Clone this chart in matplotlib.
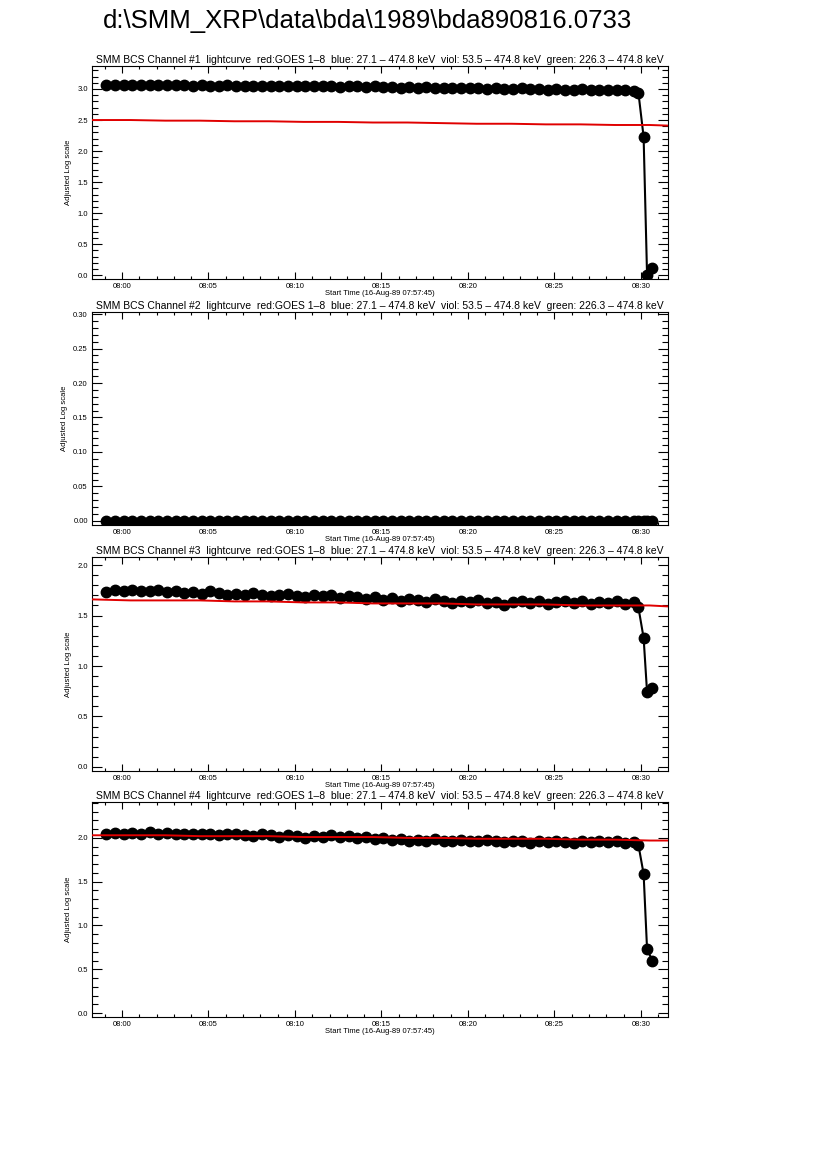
import matplotlib
matplotlib.use("Agg")
import matplotlib.pyplot as plt
from matplotlib.ticker import MultipleLocator

plt.rcParams['font.family'] = ['Liberation Sans', 'DejaVu Sans']

file_title = "d:\\SMM_XRP\\data\\bda\\1989\\bda890816.0733"
panel_title = ("SMM BCS Channel #{}  lightcurve  red:GOES 1\u20138  blue: 27.1 \u2013 474.8 keV  "
               "viol: 53.5 \u2013 474.8 keV  green: 226.3 \u2013 474.8 keV")
x_label = "Start Time (16-Aug-89 07:57:45)"
y_label = "Adjusted Log scale"

# minutes after 08:00
minutes = [-0.9, -0.4, 0.1, 0.6, 1.1, 1.6, 2.1, 2.6, 3.1, 3.6,
           4.1, 4.6, 5.1, 5.6, 6.1, 6.6, 7.1, 7.6, 8.1, 8.6,
           9.1, 9.6, 10.1, 10.6, 11.1, 11.6, 12.1, 12.6, 13.1, 13.6,
           14.1, 14.6, 15.1, 15.6, 16.1, 16.6, 17.1, 17.6, 18.1, 18.6,
           19.1, 19.6, 20.1, 20.6, 21.1, 21.6, 22.1, 22.6, 23.1, 23.6,
           24.1, 24.6, 25.1, 25.6, 26.1, 26.6, 27.1, 27.6, 28.1, 28.6,
           29.1, 29.6, 29.85, 30.15, 30.35, 30.65]

ch1 = [3.06, 3.07, 3.06, 3.06, 3.07, 3.06, 3.06, 3.07, 3.06, 3.06,
       3.05, 3.06, 3.05, 3.05, 3.06, 3.05, 3.05, 3.04, 3.05, 3.05,
       3.04, 3.05, 3.04, 3.04, 3.05, 3.04, 3.04, 3.03, 3.04, 3.04,
       3.03, 3.04, 3.03, 3.03, 3.02, 3.03, 3.02, 3.03, 3.02, 3.02,
       3.01, 3.02, 3.01, 3.01, 3.00, 3.01, 3.00, 3.00, 3.01, 3.00,
       3.00, 2.99, 3.00, 2.99, 2.99, 3.00, 2.99, 2.98, 2.99, 2.98,
       2.98, 2.97, 2.94, 2.23, 0.00, 0.12]
ch2 = [0.0] * 66
ch3 = [1.73, 1.75, 1.74, 1.75, 1.74, 1.74, 1.75, 1.73, 1.74, 1.72,
       1.73, 1.71, 1.74, 1.72, 1.70, 1.71, 1.70, 1.72, 1.70, 1.69,
       1.70, 1.71, 1.69, 1.68, 1.70, 1.69, 1.70, 1.67, 1.69, 1.68,
       1.66, 1.68, 1.65, 1.67, 1.64, 1.66, 1.65, 1.63, 1.66, 1.64,
       1.62, 1.64, 1.63, 1.65, 1.62, 1.63, 1.60, 1.63, 1.64, 1.62,
       1.64, 1.61, 1.63, 1.64, 1.62, 1.64, 1.61, 1.63, 1.62, 1.64,
       1.61, 1.63, 1.58, 1.28, 0.74, 0.78]
ch4 = [2.05, 2.06, 2.05, 2.06, 2.05, 2.07, 2.05, 2.06, 2.05, 2.04,
       2.05, 2.04, 2.05, 2.03, 2.04, 2.04, 2.03, 2.02, 2.04, 2.03,
       2.01, 2.03, 2.02, 2.00, 2.02, 2.01, 2.03, 2.01, 2.02, 2.00,
       2.01, 1.99, 2.00, 1.98, 1.99, 1.97, 1.98, 1.97, 1.99, 1.97,
       1.96, 1.98, 1.97, 1.96, 1.98, 1.96, 1.95, 1.97, 1.96, 1.94,
       1.96, 1.95, 1.97, 1.95, 1.94, 1.96, 1.95, 1.97, 1.95, 1.96,
       1.94, 1.95, 1.92, 1.59, 0.73, 0.60]

goes_minutes = [-1.7, 0.5, 2.5, 4.5, 6.5, 8.5, 10.5, 12.5, 14.5, 16.5,
                18.5, 20.5, 22.5, 24.5, 26.5, 28.5, 30.5, 31.6]
goes1 = [2.50, 2.50, 2.49, 2.49, 2.48, 2.48, 2.47, 2.47, 2.46, 2.46,
         2.45, 2.44, 2.44, 2.43, 2.43, 2.42, 2.42, 2.41]
goes3 = [1.66, 1.65, 1.65, 1.65, 1.64, 1.64, 1.63, 1.63, 1.62, 1.62,
         1.62, 1.61, 1.61, 1.61, 1.60, 1.60, 1.60, 1.59]
goes4 = [2.03, 2.03, 2.03, 2.02, 2.02, 2.02, 2.01, 2.01, 2.01, 2.00,
         2.00, 1.99, 1.99, 1.99, 1.98, 1.98, 1.97, 1.97]

tick_minutes = [0, 5, 10, 15, 20, 25, 30]
tick_labels = ["08:00", "08:05", "08:10", "08:15", "08:20", "08:25", "08:30"]

channels = [ch1, ch2, ch3, ch4]
goes = [goes1, None, goes3, goes4]
ylims = [(-0.06, 3.37), (-0.006, 0.303), (-0.04, 2.08), (-0.045, 2.41)]
ymajor = [0.5, 0.05, 0.5, 0.5]
yformat = ["%.1f", "%.2f", "%.1f", "%.1f"]
# axes boxes in pixels (top, bottom) on a 826x1169 page
boxes = [(66, 279), (312, 525), (557, 771), (802, 1017)]

W, H = 826.0, 1169.0
fig = plt.figure(figsize=(8.26, 11.69), dpi=100)
fig.text(367 / W, 1 - 21 / H, file_title, fontsize=18.5, ha='center', va='center')

for i in range(4):
    top, bot = boxes[i]
    ax = fig.add_axes([92 / W, 1 - bot / H, (668 - 92) / W, (bot - top) / H])
    ax.plot(minutes, channels[i], color='black', lw=1.5, marker='o',
            markersize=7.5, zorder=2)
    if goes[i] is not None:
        ax.plot(goes_minutes, goes[i], color='#e00000', lw=1.4, zorder=3)
    ax.set_xlim(-1.73, 31.56)
    ax.set_ylim(*ylims[i])
    ax.set_xticks(tick_minutes)
    ax.set_xticklabels(tick_labels)
    ax.xaxis.set_minor_locator(MultipleLocator(1))
    ax.yaxis.set_major_locator(MultipleLocator(ymajor[i]))
    ax.yaxis.set_minor_locator(MultipleLocator(ymajor[i] / 5))
    ax.yaxis.set_major_formatter(plt.FormatStrFormatter(yformat[i]))
    ax.tick_params(axis='both', which='both', direction='in', top=True,
                   right=True, labelsize=5.5, width=0.8, pad=3)
    ax.tick_params(axis='x', which='major', length=5)
    ax.tick_params(axis='x', which='minor', length=2.5)
    ax.tick_params(axis='y', which='major', length=7)
    ax.tick_params(axis='y', which='minor', length=4)
    for s in ax.spines.values():
        s.set_linewidth(0.8)
    ax.set_title(panel_title.format(i + 1), fontsize=7.5, pad=2)
    ax.set_xlabel(x_label, fontsize=5.5, labelpad=0)
    ax.set_ylabel(y_label, fontsize=5.5, labelpad=4)

fig.savefig("out.png", dpi=100)
